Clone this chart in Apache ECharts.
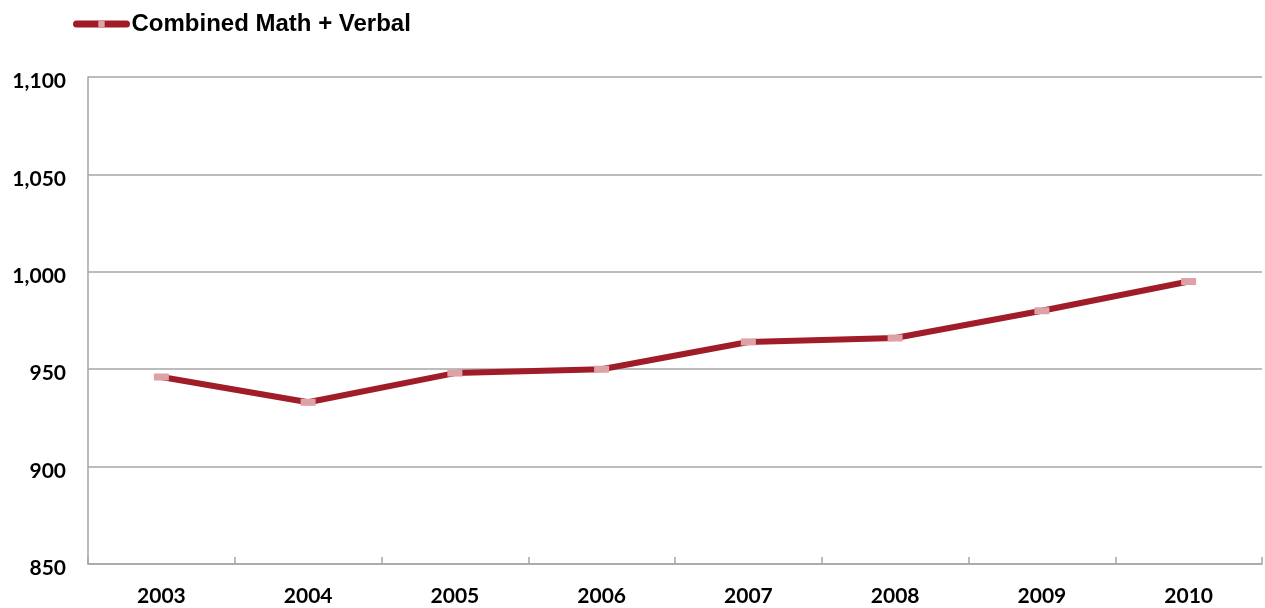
<!DOCTYPE html>
<html><head><meta charset="utf-8">
<script src="https://cdn.jsdelivr.net/npm/echarts@6/dist/echarts.min.js"></script>
<style>html,body{margin:0;padding:0;background:#fff}#c{width:1265px;height:608px}</style>
</head><body><div id="c"></div>
<script>
const categories = ['2003','2004','2005','2006','2007','2008','2009','2010'];
const combined = [946, 933, 948, 950, 964, 966, 980, 995];
const seriesName = 'Combined Math + Verbal';

const chart = echarts.init(document.getElementById('c'), null, {renderer:'canvas'});
chart.setOption({
  animation:false,
  backgroundColor:'#fff',
  legend:{
    left:68, top:7, itemWidth:50, itemHeight:8, itemGap:3,
    lineStyle:{width:7, cap:'round', color:'#a01c28'},
    textStyle:{fontFamily:'Liberation Sans', fontWeight:'bold', fontSize:24, color:'#000'},
    data:[seriesName]
  },
  grid:{left:88, right:3, top:77, bottom:44, containLabel:false},
  xAxis:{
    type:'category', data:categories, boundaryGap:true,
    axisLine:{lineStyle:{color:'#a6a6a6', width:1.5}},
    axisTick:{show:true, inside:true, length:7, lineStyle:{color:'#a6a6a6', width:1.5}},
    axisLabel:{fontFamily:'Lato', fontWeight:'bold', fontSize:21, color:'#000', margin:22}
  },
  yAxis:{
    type:'value', min:850, max:1100, interval:50,
    axisLine:{show:true, lineStyle:{color:'#a6a6a6', width:1.5}},
    axisTick:{show:false},
    splitLine:{lineStyle:{color:'#a6a6a6', width:1.5}},
    axisLabel:{fontFamily:'Lato', fontWeight:'bold', fontSize:21, color:'#000', margin:22,
      verticalAlign:'top', padding:[-6,0,0,0],
      formatter:v=>v.toLocaleString('en-US')}
  },
  series:[{
    name:seriesName, type:'line', data:combined,
    lineStyle:{color:'#a01c28', width:6},
    itemStyle:{color:'#dea2a6', borderWidth:0},
    symbol:'rect', symbolSize:[15,7], showSymbol:true
  }]
});
</script></body></html>
